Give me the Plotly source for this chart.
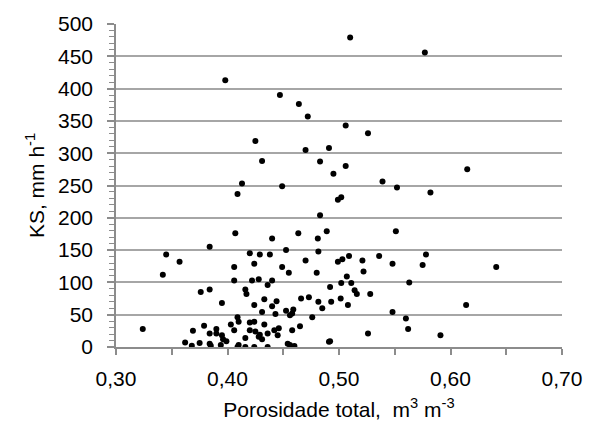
import plotly.graph_objects as go

porosidade = [
    0.324, 0.342, 0.345, 0.357, 0.362, 0.368, 0.369, 0.375, 0.376, 0.379,
    0.384, 0.384, 0.384, 0.385, 0.384, 0.390, 0.390, 0.395, 0.395, 0.394,
    0.396, 0.398, 0.399, 0.403, 0.406, 0.406, 0.406, 0.407, 0.409, 0.409,
    0.410, 0.410, 0.409, 0.413, 0.416, 0.417, 0.416, 0.416, 0.420, 0.420,
    0.420, 0.422, 0.424, 0.424, 0.424, 0.425, 0.424, 0.425, 0.428, 0.428,
    0.429, 0.429, 0.431, 0.431, 0.431, 0.433, 0.433, 0.436, 0.436, 0.436,
    0.438, 0.440, 0.440, 0.440, 0.442, 0.443, 0.444, 0.445, 0.446, 0.447,
    0.449, 0.449, 0.4525, 0.4525, 0.454, 0.456, 0.460, 0.455, 0.456, 0.458,
    0.459, 0.458, 0.464, 0.4635, 0.465, 0.466, 0.470, 0.470, 0.472, 0.473,
    0.476, 0.480, 0.481, 0.4815, 0.4815, 0.483, 0.483, 0.485, 0.489, 0.491,
    0.491, 0.492, 0.492, 0.493, 0.495, 0.499, 0.499, 0.502, 0.502, 0.5015,
    0.503, 0.506, 0.506, 0.507, 0.508, 0.509, 0.510, 0.511, 0.514, 0.516,
    0.521, 0.522, 0.526, 0.526, 0.528, 0.536, 0.539, 0.548, 0.548, 0.551,
    0.552, 0.560, 0.562, 0.563, 0.575, 0.577, 0.578, 0.582, 0.591, 0.614,
    0.615, 0.641,
]
ks = [
    28, 112, 143, 132, 7, 2, 25, 6, 85, 33,
    155, 89, 5, 2, 21, 28, 21, 68, 18, 3,
    12, 413, 9, 35, 124, 103, 26, 176, 237, 46,
    39, 3, 0, 253, 89, 82, 14, 0, 145, 38,
    26, 103, 129, 65, 39, 24, 0, 319, 105, 16,
    19, 143, 288, 54, 12, 74, 35, 96, 21, 0,
    143, 168, 103, 63, 26, 51, 71, 18, 29, 390,
    249, 124, 150, 56, 5, 3, 1.5, 115, 49, 52,
    58, 26, 376, 176, 32, 75, 305, 134, 357, 77,
    46, 115, 168, 148, 70, 287, 204, 60, 179, 308,
    8, 9, 93, 70, 268, 228, 132, 232, 99, 75,
    136, 343, 280, 109, 65, 141, 479, 99, 88, 82,
    134, 117, 331, 21, 82, 141, 256, 129, 54, 179,
    247, 44, 28, 100, 127, 456, 143, 239, 18, 65,
    275, 124,
]

fig = go.Figure(
    go.Scatter(
        x=porosidade, y=ks, mode="markers",
        marker=dict(color="black", size=6, line=dict(width=0)),
        showlegend=False,
    )
)

axis_font = dict(family="Liberation Sans, Arial, sans-serif", size=21, color="#000000")

fig.update_layout(
    width=594, height=434,
    margin=dict(l=116, r=32, t=24, b=87),
    paper_bgcolor="white", plot_bgcolor="white",
    separators=", ",
    font=axis_font,
    xaxis=dict(
        range=[0.3, 0.7], dtick=0.1, tick0=0.3, tickformat=".2f",
        showgrid=False, zeroline=False,
        showline=True, linecolor="#8c8c8c", linewidth=1.5,
        ticks="outside", ticklen=6, tickcolor="#8c8c8c", tickwidth=1.5,
        minor=dict(dtick=0.05, tick0=0.3, ticks="outside", ticklen=6,
                   tickcolor="#8c8c8c", tickwidth=1.5, showgrid=False),
        ticklabelstandoff=6,
        title=dict(text="Porosidade total,&nbsp; m<sup>3</sup> m<sup>-3</sup>",
                   font=axis_font, standoff=13),
    ),
    yaxis=dict(
        range=[0, 500], dtick=50,
        showgrid=True, gridcolor="#a6a6a6", gridwidth=1.5,
        zeroline=False,
        showline=True, linecolor="#8c8c8c", linewidth=1.5,
        ticks="outside", ticklen=7, tickcolor="#8c8c8c", tickwidth=1.5,
        minor=dict(dtick=10, ticks="outside", ticklen=5,
                   tickcolor="#8c8c8c", tickwidth=1, showgrid=False),
        ticklabelstandoff=10,
        title=dict(text="KS, mm h<sup>-1</sup>", font=axis_font, standoff=8),
    ),
)

fig.write_html("out.html")
